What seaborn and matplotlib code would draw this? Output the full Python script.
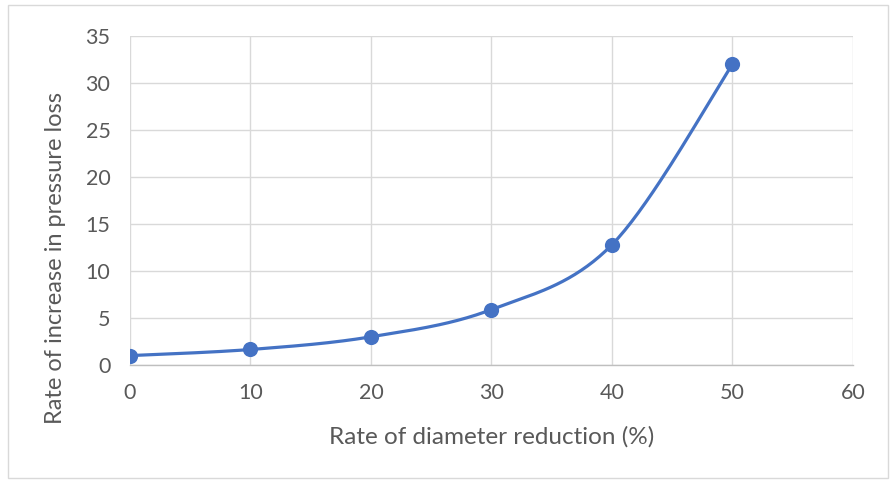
import numpy as np
import pandas as pd
import matplotlib.pyplot as plt
import seaborn as sns
from matplotlib.patches import Rectangle

# data
diameter_reduction = [0, 10, 20, 30, 40, 50]
pressure_loss_rate = [1.0, 1.65, 3.0, 5.9, 12.8, 32.0]
x_ticks = [0, 10, 20, 30, 40, 50, 60]
y_ticks = [0, 5, 10, 15, 20, 25, 30, 35]

BLUE = "#4472C4"
GRID = "#D9D9D9"
TEXT = "#595959"


def excel_smooth(x, y, n=40):
    # Catmull-Rom style bezier like Excel's "smoothed line"
    x = np.asarray(x, float)
    y = np.asarray(y, float)
    px, py = [], []
    for i in range(len(x) - 1):
        x0, y0 = (x[i - 1], y[i - 1]) if i > 0 else (x[i], y[i])
        x3, y3 = (x[i + 2], y[i + 2]) if i + 2 < len(x) else (x[i + 1], y[i + 1])
        c1x = x[i] + (x[i + 1] - x0) / 6
        c1y = y[i] + (y[i + 1] - y0) / 6
        c2x = x[i + 1] - (x3 - x[i]) / 6
        c2y = y[i + 1] - (y3 - y[i]) / 6
        t = np.linspace(0, 1, n)
        px.append((1 - t) ** 3 * x[i] + 3 * (1 - t) ** 2 * t * c1x + 3 * (1 - t) * t ** 2 * c2x + t ** 3 * x[i + 1])
        py.append((1 - t) ** 3 * y[i] + 3 * (1 - t) ** 2 * t * c1y + 3 * (1 - t) * t ** 2 * c2y + t ** 3 * y[i + 1])
    return np.concatenate(px), np.concatenate(py)


sns.set_theme(style="white")
plt.rcParams['font.family'] = ['Lato', 'DejaVu Sans']

df = pd.DataFrame({"x": diameter_reduction, "y": pressure_loss_rate})
sx, sy = excel_smooth(df["x"], df["y"])
curve = pd.DataFrame({"x": sx, "y": sy})

fig = plt.figure(figsize=(8.96, 4.83), dpi=100)
ax = fig.add_axes([0.145, 0.2443, 0.807, 0.681])

sns.lineplot(data=curve, x="x", y="y", ax=ax, sort=False, color=BLUE,
             linewidth=2.3, estimator=None, zorder=3)
sns.scatterplot(data=df, x="x", y="y", ax=ax, color=BLUE, s=120,
                edgecolor=BLUE, linewidth=0, zorder=4)

ax.set_xlim(0, 60)
ax.set_ylim(0, 35)
ax.set_xticks(x_ticks)
ax.set_yticks(y_ticks)
ax.grid(True, color=GRID, linewidth=1.0)
ax.set_axisbelow(True)
for side in ["top", "right", "left"]:
    ax.spines[side].set_visible(False)
ax.spines["bottom"].set_color("#BFBFBF")
ax.spines["bottom"].set_linewidth(1.0)
ax.tick_params(axis="both", length=0, labelsize=15.5, colors=TEXT)
ax.tick_params(axis="x", pad=13)
ax.tick_params(axis="y", pad=14)

ax.set_xlabel("Rate of diameter reduction (%)", fontsize=17.5, color=TEXT)
ax.set_ylabel("Rate of increase in pressure loss", fontsize=17, color=TEXT)
ax.xaxis.set_label_coords(0.5, -0.185)
ax.yaxis.set_label_coords(-0.089, 0.325)

# chart area border
fig.patches.append(Rectangle((8 / 896, 5 / 483), 880 / 896, 473 / 483,
                             transform=fig.transFigure, fill=False,
                             edgecolor="#D9D9D9", linewidth=1.0))

fig.savefig("out.png", dpi=100)
